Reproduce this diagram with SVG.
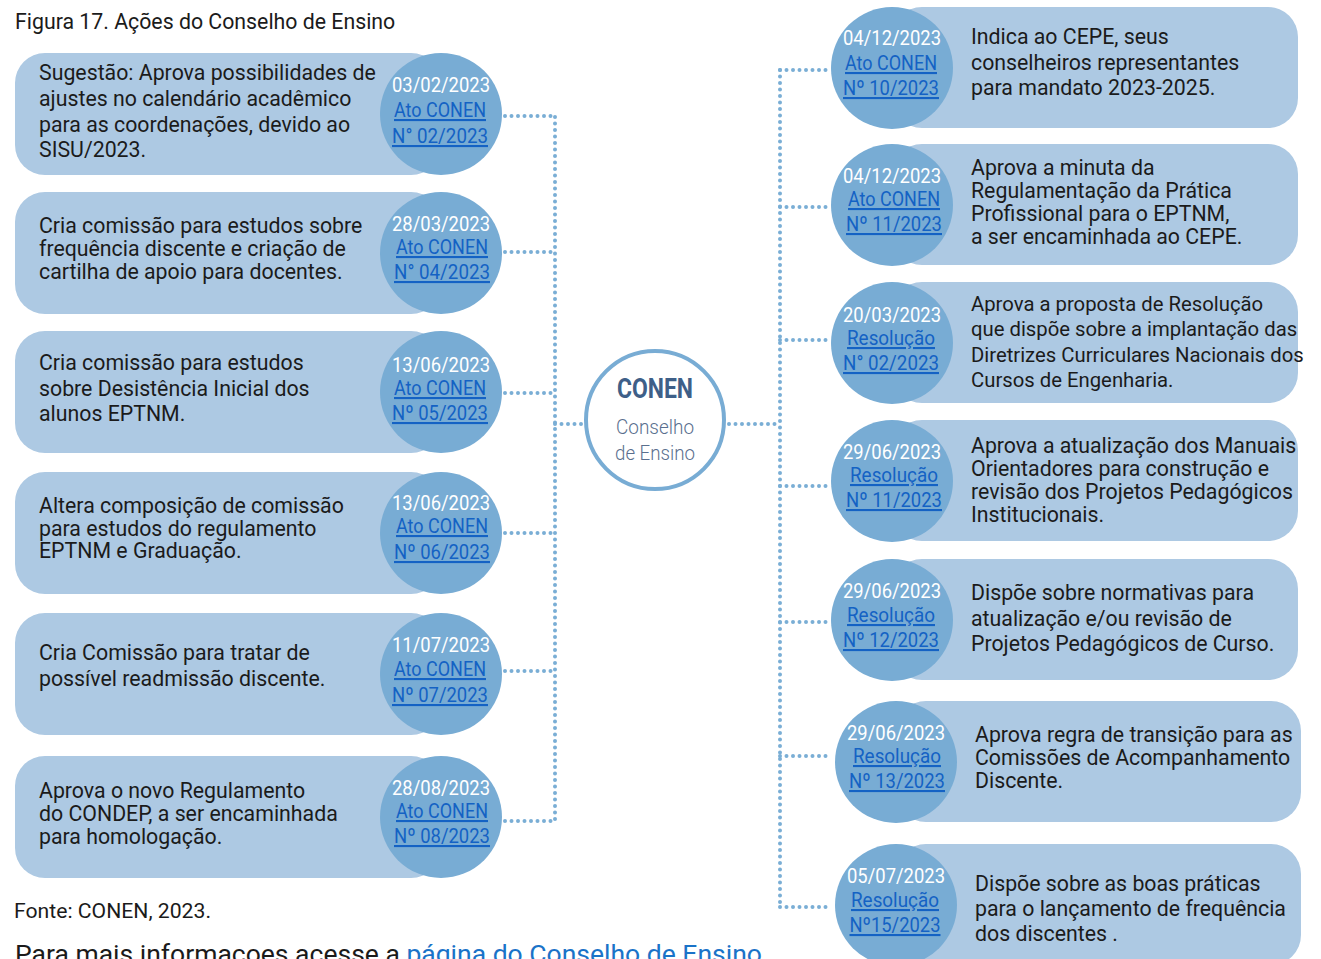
<svg xmlns="http://www.w3.org/2000/svg" width="1321" height="959" viewBox="0 0 1321 959">
<style>
.box{fill:#adc9e3}
.circ{fill:#78acd4}
.t{font-family:Roboto,"Liberation Sans",sans-serif;font-size:21.3px;fill:#1b1b1b}
.ts{font-family:Roboto,"Liberation Sans",sans-serif;font-size:20.3px;fill:#1b1b1b}
.d{font-family:Roboto,"Liberation Sans",sans-serif;font-size:21px;fill:#ffffff;text-anchor:middle}
.l{font-family:Roboto,"Liberation Sans",sans-serif;font-size:21px;fill:#1462c4;text-anchor:middle;text-decoration:underline}
.dots{fill:none;stroke:#7aaed5;stroke-width:4;stroke-linecap:round;stroke-dasharray:0 6.5}
.cap{font-family:Roboto,"Liberation Sans",sans-serif;fill:#1b1b1b}
</style>
<rect width="1321" height="959" fill="#ffffff"/>
<text class="cap" x="15" y="29" font-size="21.3">Figura 17. Ações do Conselho de Ensino</text>

<g id="connectors">
<path class="dots" d="M555 117 V821"/>
<path class="dots" d="M505 116 H555 M505 252 H555 M505 393 H555 M505 533 H555 M505 671 H555 M505 821 H555"/>
<path class="dots" d="M555 424 H583"/>
<path class="dots" d="M780 70 V907"/>
<path class="dots" d="M780 70 H829 M780 207 H829 M780 340 H829 M780 486 H829 M780 622 H829 M780 756 H832 M780 907 H832"/>
<path class="dots" d="M729 424 H780"/>
</g>

<g id="conen">
<circle cx="655" cy="420" r="69" fill="#ffffff" stroke="#78acd4" stroke-width="4"/>
<text x="655" y="398" text-anchor="middle" font-family="Roboto,'Liberation Sans',sans-serif" font-size="27" font-weight="bold" fill="#3e5f88" textLength="76" lengthAdjust="spacingAndGlyphs">CONEN</text>
<text x="655" y="434" text-anchor="middle" font-family="Roboto,'Liberation Sans',sans-serif" font-size="21" font-weight="300" fill="#5a6f8e" textLength="78" lengthAdjust="spacingAndGlyphs">Conselho</text>
<text x="655" y="460" text-anchor="middle" font-family="Roboto,'Liberation Sans',sans-serif" font-size="21" font-weight="300" fill="#5a6f8e" textLength="80" lengthAdjust="spacingAndGlyphs">de Ensino</text>
</g>

<g id="left1">
<rect class="box" x="15" y="53" width="426" height="122" rx="30"/>
<circle class="circ" cx="441" cy="114" r="61"/>
<text class="t" x="39" y="80">Sugestão: Aprova possibilidades de</text>
<text class="t" x="39" y="106">ajustes no calendário acadêmico</text>
<text class="t" x="39" y="132">para as coordenações, devido ao</text>
<text class="t" x="39" y="157">SISU/2023.</text>
<text class="d" x="441" y="92" textLength="98" lengthAdjust="spacingAndGlyphs">03/02/2023</text>
<text class="l" x="440" y="117" textLength="92" lengthAdjust="spacingAndGlyphs">Ato CONEN</text>
<text class="l" x="440" y="143" textLength="96" lengthAdjust="spacingAndGlyphs">N° 02/2023</text>
</g>

<g id="left2">
<rect class="box" x="15" y="192" width="426" height="122" rx="30"/>
<circle class="circ" cx="441" cy="253" r="61"/>
<text class="t" x="39" y="233">Cria comissão para estudos sobre</text>
<text class="t" x="39" y="256">frequência discente e criação de</text>
<text class="t" x="39" y="279">cartilha de apoio para docentes.</text>
<text class="d" x="441" y="231" textLength="98" lengthAdjust="spacingAndGlyphs">28/03/2023</text>
<text class="l" x="442" y="254" textLength="92" lengthAdjust="spacingAndGlyphs">Ato CONEN</text>
<text class="l" x="442" y="279" textLength="96" lengthAdjust="spacingAndGlyphs">N° 04/2023</text>
</g>

<g id="left3">
<rect class="box" x="15" y="331" width="426" height="122" rx="30"/>
<circle class="circ" cx="441" cy="392" r="61"/>
<text class="t" x="39" y="370">Cria comissão para estudos</text>
<text class="t" x="39" y="396">sobre Desistência Inicial dos</text>
<text class="t" x="39" y="421">alunos EPTNM.</text>
<text class="d" x="441" y="372" textLength="98" lengthAdjust="spacingAndGlyphs">13/06/2023</text>
<text class="l" x="440" y="395" textLength="92" lengthAdjust="spacingAndGlyphs">Ato CONEN</text>
<text class="l" x="440" y="420" textLength="96" lengthAdjust="spacingAndGlyphs">Nº 05/2023</text>
</g>

<g id="left4">
<rect class="box" x="15" y="472" width="426" height="122" rx="30"/>
<circle class="circ" cx="441" cy="533" r="61"/>
<text class="t" x="39" y="513">Altera composição de comissão</text>
<text class="t" x="39" y="536">para estudos do regulamento</text>
<text class="t" x="39" y="558">EPTNM e Graduação.</text>
<text class="d" x="441" y="510" textLength="98" lengthAdjust="spacingAndGlyphs">13/06/2023</text>
<text class="l" x="442" y="533" textLength="92" lengthAdjust="spacingAndGlyphs">Ato CONEN</text>
<text class="l" x="442" y="559" textLength="96" lengthAdjust="spacingAndGlyphs">Nº 06/2023</text>
</g>

<g id="left5">
<rect class="box" x="15" y="613" width="426" height="122" rx="30"/>
<circle class="circ" cx="441" cy="674" r="61"/>
<text class="t" x="39" y="660">Cria Comissão para tratar de</text>
<text class="t" x="39" y="686">possível readmissão discente.</text>
<text class="d" x="441" y="652" textLength="98" lengthAdjust="spacingAndGlyphs">11/07/2023</text>
<text class="l" x="440" y="676" textLength="92" lengthAdjust="spacingAndGlyphs">Ato CONEN</text>
<text class="l" x="440" y="702" textLength="96" lengthAdjust="spacingAndGlyphs">Nº 07/2023</text>
</g>

<g id="left6">
<rect class="box" x="15" y="756" width="426" height="122" rx="30"/>
<circle class="circ" cx="441" cy="817" r="61"/>
<text class="t" x="39" y="798">Aprova o novo Regulamento</text>
<text class="t" x="39" y="821">do CONDEP, a ser encaminhada</text>
<text class="t" x="39" y="844">para homologação.</text>
<text class="d" x="441" y="795" textLength="98" lengthAdjust="spacingAndGlyphs">28/08/2023</text>
<text class="l" x="442" y="818" textLength="92" lengthAdjust="spacingAndGlyphs">Ato CONEN</text>
<text class="l" x="442" y="843" textLength="96" lengthAdjust="spacingAndGlyphs">Nº 08/2023</text>
</g>

<g id="right1">
<rect class="box" x="892" y="7" width="406" height="121" rx="30"/>
<circle class="circ" cx="892" cy="68" r="61"/>
<text class="t" x="971" y="44">Indica ao CEPE, seus</text>
<text class="t" x="971" y="70">conselheiros representantes</text>
<text class="t" x="971" y="95">para mandato 2023-2025.</text>
<text class="d" x="892" y="45" textLength="98" lengthAdjust="spacingAndGlyphs">04/12/2023</text>
<text class="l" x="891" y="70" textLength="92" lengthAdjust="spacingAndGlyphs">Ato CONEN</text>
<text class="l" x="891" y="95" textLength="96" lengthAdjust="spacingAndGlyphs">Nº 10/2023</text>
</g>

<g id="right2">
<rect class="box" x="892" y="144" width="406" height="121" rx="30"/>
<circle class="circ" cx="892" cy="205" r="61"/>
<text class="t" x="971" y="175">Aprova a minuta da</text>
<text class="t" x="971" y="198">Regulamentação da Prática</text>
<text class="t" x="971" y="221">Profissional para o EPTNM,</text>
<text class="t" x="971" y="244">a ser encaminhada ao CEPE.</text>
<text class="d" x="892" y="183" textLength="98" lengthAdjust="spacingAndGlyphs">04/12/2023</text>
<text class="l" x="894" y="206" textLength="92" lengthAdjust="spacingAndGlyphs">Ato CONEN</text>
<text class="l" x="894" y="231" textLength="96" lengthAdjust="spacingAndGlyphs">Nº 11/2023</text>
</g>

<g id="right3">
<rect class="box" x="892" y="282" width="406" height="121" rx="30"/>
<circle class="circ" cx="892" cy="343" r="61"/>
<text class="ts" x="971" y="311">Aprova a proposta de Resolução</text>
<text class="ts" x="971" y="336">que dispõe sobre a implantação das</text>
<text class="ts" x="971" y="362">Diretrizes Curriculares Nacionais dos</text>
<text class="ts" x="971" y="387">Cursos de Engenharia.</text>
<text class="d" x="892" y="322" textLength="98" lengthAdjust="spacingAndGlyphs">20/03/2023</text>
<text class="l" x="891" y="345" textLength="88" lengthAdjust="spacingAndGlyphs">Resolução</text>
<text class="l" x="891" y="370" textLength="96" lengthAdjust="spacingAndGlyphs">N° 02/2023</text>
</g>

<g id="right4">
<rect class="box" x="892" y="420" width="406" height="121" rx="30"/>
<circle class="circ" cx="892" cy="481" r="61"/>
<text class="t" x="971" y="453">Aprova a atualização dos Manuais</text>
<text class="t" x="971" y="476">Orientadores para construção e</text>
<text class="t" x="971" y="499">revisão dos Projetos Pedagógicos</text>
<text class="t" x="971" y="522">Institucionais.</text>
<text class="d" x="892" y="459" textLength="98" lengthAdjust="spacingAndGlyphs">29/06/2023</text>
<text class="l" x="894" y="482" textLength="88" lengthAdjust="spacingAndGlyphs">Resolução</text>
<text class="l" x="894" y="507" textLength="96" lengthAdjust="spacingAndGlyphs">Nº 11/2023</text>
</g>

<g id="right5">
<rect class="box" x="892" y="559" width="406" height="121" rx="30"/>
<circle class="circ" cx="892" cy="620" r="61"/>
<text class="t" x="971" y="600">Dispõe sobre normativas para</text>
<text class="t" x="971" y="626">atualização e/ou revisão de</text>
<text class="t" x="971" y="651">Projetos Pedagógicos de Curso.</text>
<text class="d" x="892" y="598" textLength="98" lengthAdjust="spacingAndGlyphs">29/06/2023</text>
<text class="l" x="891" y="622" textLength="88" lengthAdjust="spacingAndGlyphs">Resolução</text>
<text class="l" x="891" y="647" textLength="96" lengthAdjust="spacingAndGlyphs">Nº 12/2023</text>
</g>

<g id="right6">
<rect class="box" x="896" y="701" width="405" height="121" rx="30"/>
<circle class="circ" cx="896" cy="762" r="61"/>
<text class="t" x="975" y="742">Aprova regra de transição para as</text>
<text class="t" x="975" y="765">Comissões de Acompanhamento</text>
<text class="t" x="975" y="788">Discente.</text>
<text class="d" x="896" y="740" textLength="98" lengthAdjust="spacingAndGlyphs">29/06/2023</text>
<text class="l" x="897" y="763" textLength="88" lengthAdjust="spacingAndGlyphs">Resolução</text>
<text class="l" x="897" y="788" textLength="96" lengthAdjust="spacingAndGlyphs">Nº 13/2023</text>
</g>

<g id="right7">
<rect class="box" x="896" y="844" width="405" height="121" rx="30"/>
<circle class="circ" cx="896" cy="905" r="61"/>
<text class="t" x="975" y="891">Dispõe sobre as boas práticas</text>
<text class="t" x="975" y="916">para o lançamento de frequência</text>
<text class="t" x="975" y="941">dos discentes .</text>
<text class="d" x="896" y="883" textLength="98" lengthAdjust="spacingAndGlyphs">05/07/2023</text>
<text class="l" x="895" y="907" textLength="88" lengthAdjust="spacingAndGlyphs">Resolução</text>
<text class="l" x="895" y="932" textLength="91" lengthAdjust="spacingAndGlyphs">Nº15/2023</text>
</g>

<text class="cap" x="14" y="918" font-size="20" textLength="197" lengthAdjust="spacingAndGlyphs">Fonte: CONEN, 2023.</text>
<text class="cap" x="15" y="963" font-size="26.5">Para mais informacoes acesse a <tspan fill="#1a73c8">página do Conselho de Ensino</tspan></text>
</svg>
